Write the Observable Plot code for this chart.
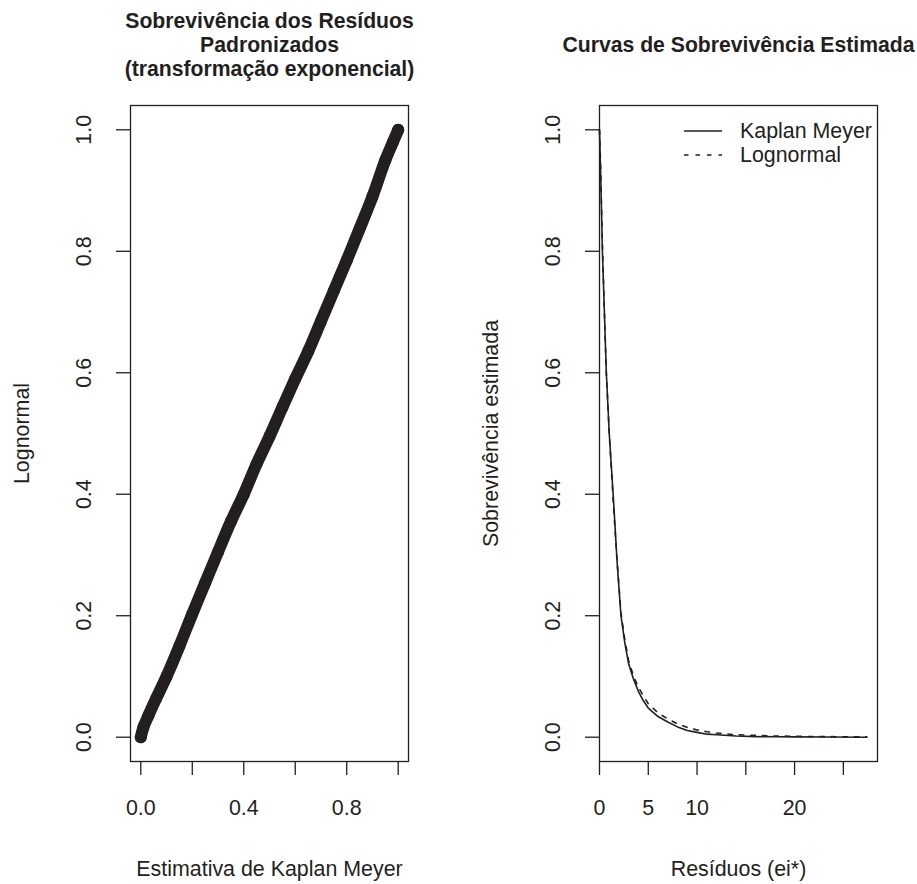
<!DOCTYPE html>
<html><head><meta charset="utf-8">
<script src="https://cdn.jsdelivr.net/npm/d3@7"></script>
<script src="https://cdn.jsdelivr.net/npm/@observablehq/plot@0.6"></script>
<style>
body{margin:0;background:#fff;}
#wrap{position:relative;width:917px;height:884px;overflow:hidden;font-family:"Liberation Sans",Arial,Helvetica,sans-serif;}
#wrap > svg{position:absolute;top:0;}
</style></head><body><div id="wrap"></div>
<script>
// ---- Left panel: KM estimate vs lognormal survival of standardized residuals
const kmEstimate        = [0, 0.01, 0.03, 0.06, 0.10, 0.15, 0.20, 0.25, 0.30, 0.35, 0.40, 0.45, 0.50, 0.55, 0.60, 0.65, 0.70, 0.75, 0.80, 0.85, 0.90, 0.95, 0.98, 1.0];
const lognormalEstimate = [0, 0.016, 0.036, 0.064, 0.10, 0.15, 0.203, 0.254, 0.305, 0.355, 0.40, 0.45, 0.495, 0.543, 0.59, 0.635, 0.685, 0.735, 0.785, 0.837, 0.89, 0.95, 0.98, 1.0];
// ---- Right panel: estimated survival curves
const residuals     = [0, 0.1, 0.3, 0.5, 0.7, 1.0, 1.4, 1.8, 2.2, 2.6, 3.0, 3.5, 4.0, 4.5, 5.0, 6.0, 7.0, 8.0, 9.0, 10, 11, 12, 14, 16, 18, 20, 23, 27.4];
const survKM        = [1, 0.94, 0.8, 0.7, 0.6, 0.5, 0.4, 0.29, 0.2, 0.155, 0.12, 0.095, 0.075, 0.06, 0.048, 0.034, 0.025, 0.017, 0.011, 0.008, 0.005, 0.004, 0.002, 0.001, 0.0007, 0.0005, 0.0003, 0];
const survLognormal = [1, 0.95, 0.81, 0.7, 0.6, 0.5, 0.39, 0.29, 0.205, 0.16, 0.125, 0.1, 0.082, 0.068, 0.055, 0.04, 0.03, 0.022, 0.016, 0.012, 0.009, 0.007, 0.004, 0.003, 0.002, 0.0015, 0.001, 0.0005];
// ---- Ticks and labels
const yTicks = [0, 0.2, 0.4, 0.6, 0.8, 1.0];
const yLabels = ["0.0", "0.2", "0.4", "0.6", "0.8", "1.0"];
const leftXTicks = [0, 0.2, 0.4, 0.6, 0.8, 1.0];
const leftXLabels = ["0.0", "", "0.4", "", "0.8", ""];
const rightXTicks = [0, 5, 10, 15, 20, 25];
const rightXLabels = ["0", "5", "10", "", "20", ""];
const titleLeft = "Sobrevivência dos Resíduos\nPadronizados\n(transformação exponencial)";
const titleRight = "Curvas de Sobrevivência Estimada";
const xLabelLeft = "Estimativa de Kaplan Meyer";
const yLabelLeft = "Lognormal";
const xLabelRight = "Resíduos (ei*)";
const yLabelRight = "Sobrevivência estimada";
const legendLabels = ["Kaplan Meyer", "Lognormal"];

const ink = "#231f20";
const dash = "4.5,7";
const style = {fontFamily: "'Liberation Sans', Arial, Helvetica, sans-serif", fontSize: "21.4px", color: ink, background: "transparent", overflow: "visible"};
const lab = (ticks, labels) => { const m = new Map(ticks.map((t, i) => [t, labels[i]])); return d => m.get(d); };

const leftPts = kmEstimate.map((k, i) => ({km: k, ln: lognormalEstimate[i]}));

function commonMarks(xTicks, xLabels, xLabel, yLabel, title, titleDy) {
  return [
    Plot.frame({stroke: ink, strokeWidth: 1.3}),
    Plot.axisX({ticks: xTicks, tickSize: 14, tickPadding: 24, tickFormat: lab(xTicks, xLabels), label: null, stroke: ink, strokeWidth: 1.3}),
    Plot.axisY({ticks: yTicks, tickSize: 14, tickFormat: () => "", label: null, stroke: ink, strokeWidth: 1.3}),
    Plot.text(yTicks, {y: d => d, text: lab(yTicks, yLabels), frameAnchor: "left", dx: -46, rotate: -90, textAnchor: "middle", lineAnchor: "middle", fill: ink}),
    Plot.text([xLabel], {text: d => d, frameAnchor: "bottom", lineAnchor: "top", dy: 99, fill: ink}),
    Plot.text([yLabel], {text: d => d, frameAnchor: "left", dx: -108, rotate: -90, textAnchor: "middle", lineAnchor: "middle", fill: ink}),
    Plot.text([title], {text: d => d, frameAnchor: "top", lineAnchor: "top", dy: titleDy, lineHeight: 1.125, fontWeight: "bold", fontSize: 21.2, fill: ink})
  ];
}

const left = Plot.plot({
  width: 458, height: 884,
  marginLeft: 130, marginRight: 50, marginTop: 105, marginBottom: 123,
  style,
  x: {domain: [-0.04, 1.04]},
  y: {domain: [-0.04, 1.04]},
  marks: [
    Plot.line(leftPts, {x: "km", y: "ln", stroke: ink, strokeWidth: 12, strokeLinecap: "round", strokeLinejoin: "round", curve: "catmull-rom"}),
    Plot.dot(leftPts, {x: "km", y: "ln", r: 6, fill: ink}),
    ...commonMarks(leftXTicks, leftXLabels, xLabelLeft, yLabelLeft, titleLeft, -94)
  ]
});
left.style.left = "0px";

const kmData = residuals.map((r, i) => ({r, s: survKM[i]}));
const lnData = residuals.map((r, i) => ({r, s: survLognormal[i]}));

const right = Plot.plot({
  width: 459, height: 884,
  marginLeft: 141, marginRight: 40, marginTop: 105, marginBottom: 123,
  style,
  x: {domain: [0, 28.5]},
  y: {domain: [-0.04, 1.04]},
  marks: [
    Plot.line(lnData, {x: "r", y: "s", stroke: ink, strokeWidth: 1.6, strokeDasharray: dash}),
    Plot.line(kmData, {x: "r", y: "s", stroke: ink, strokeWidth: 1.6}),
    ...commonMarks(rightXTicks, rightXLabels, xLabelRight, yLabelRight, titleRight, -70)
  ]
});
right.style.left = "458px";

const wrap = document.getElementById("wrap");
wrap.appendChild(left);
wrap.appendChild(right);

// Legend (no box) inside right panel
const leg = d3.create("svg").attr("width", 917).attr("height", 884).style("left", "0px").style("pointer-events", "none");
const dashes = [null, dash];
legendLabels.forEach((t, i) => {
  const y = 131 + i * 24;
  leg.append("line").attr("x1", 684).attr("x2", 722).attr("y1", y).attr("y2", y)
    .attr("stroke", ink).attr("stroke-width", 1.6).attr("stroke-dasharray", dashes[i]);
  leg.append("text").attr("x", 740).attr("y", y + 7.4).text(t)
    .attr("fill", ink).attr("font-size", 21.4).attr("font-family", "'Liberation Sans', Arial, Helvetica, sans-serif");
});
wrap.appendChild(leg.node());
</script></body></html>
